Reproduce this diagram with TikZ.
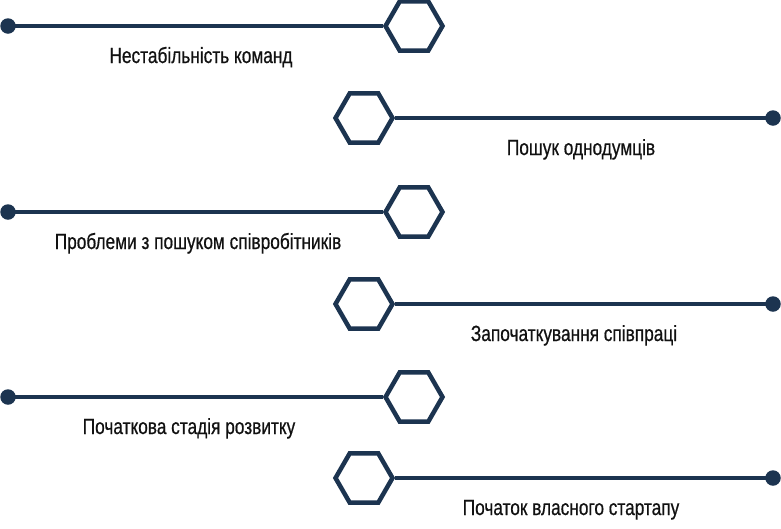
\documentclass[tikz,border=0pt]{standalone}
\usepackage{fontspec}
\newfontfamily\StepFont{Liberation Sans}[FakeStretch=0.785,FakeBold=0.6]
\usetikzlibrary{shapes.geometric}
\definecolor{navy}{HTML}{1C3450}
\definecolor{ink}{HTML}{111111}
\newcommand{\StepText}{\StepFont\fontsize{22}{25}\selectfont}

\begin{document}
\begin{tikzpicture}[x=1pt,y=-1pt,
  hexnode/.style={
    regular polygon, regular polygon sides=6, draw=navy, line width=4.5pt,
    fill=white, minimum size=57pt, inner sep=0pt
  },
  dotnode/.style={circle, fill=navy, minimum size=15.5pt, inner sep=0pt},
  stemline/.style={draw=navy, line width=4pt},
  steplabel/.style={anchor=base, font=\StepText, text=ink, inner sep=0pt}]

  \useasboundingbox (0,0) rectangle (781,528);

  % Left rows: dot on the left, hexagon on the right
  \foreach \n/\y/\tx/\txt in {%
    1/26/201/{Нестабільність команд},%
    3/212/198/{Проблеми з пошуком співробітників},%
    5/397/189/{Початкова стадія розвитку}%
  } {
    \node[dotnode] (dot\n) at (8,\y) {};
    \node[hexnode] (hex\n) at (414,\y) {};
    \draw[stemline] (dot\n.center) -- (hex\n.west);
    \node[steplabel] (lbl\n) at (\tx,\y+37) {\txt};
  }

  % Right rows: hexagon on the left, dot on the right
  \foreach \n/\y/\tx/\txt in {%
    2/118/581/{Пошук однодумців},%
    4/304/574/{Започаткування співпраці},%
    6/478/571/{Початок власного стартапу}%
  } {
    \node[hexnode] (hex\n) at (364,\y) {};
    \node[dotnode] (dot\n) at (773,\y) {};
    \draw[stemline] (hex\n.east) -- (dot\n.center);
    \node[steplabel] (lbl\n) at (\tx,\y+37) {\txt};
  }
\end{tikzpicture}
\end{document}
